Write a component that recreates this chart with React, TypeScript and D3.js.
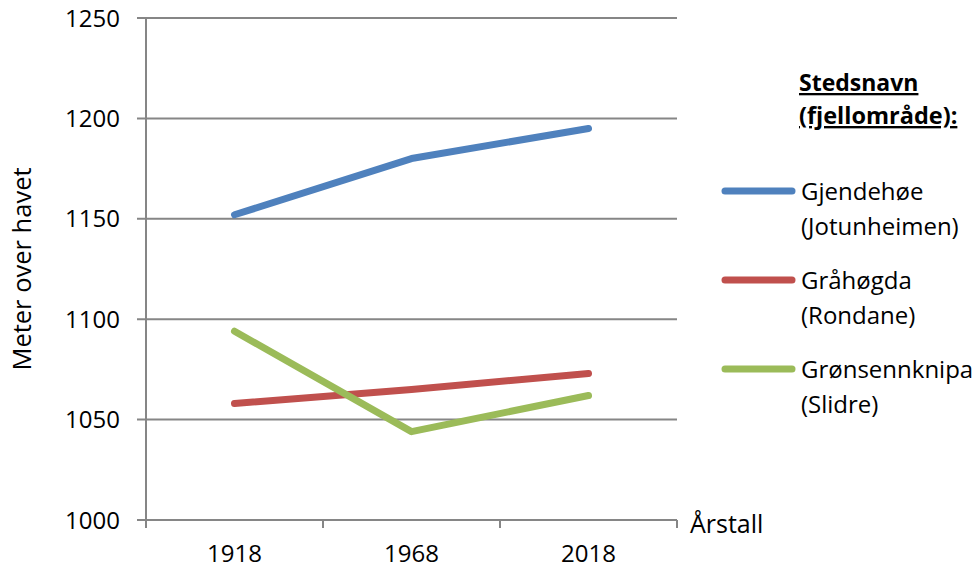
import React from "react";
import * as d3 from "d3";

const years = ["1918", "1968", "2018"];
const gjendehoe = [1152, 1180, 1195];
const graahogda = [1058, 1065, 1073];
const gronsennknipa = [1094, 1044, 1062];
const yTicks = [1000, 1050, 1100, 1150, 1200, 1250];

const seriesNames = [
  ["Gjendehøe", "(Jotunheimen)"],
  ["Gråhøgda", "(Rondane)"],
  ["Grønsennknipa", "(Slidre)"],
];
const seriesColors = ["#4F81BD", "#C0504D", "#9BBB59"];
const seriesValues = [gjendehoe, graahogda, gronsennknipa];

const W = 977;
const H = 572;
const FONT = "'Open Sans', 'Noto Sans', sans-serif";

export default function App() {
  const left = 146, right = 677, top = 18, bottom = 520;
  const x = d3.scaleBand<string>().domain(years).range([left, right]).paddingInner(0).paddingOuter(0);
  const y = d3.scaleLinear().domain([1000, 1250]).range([bottom, top]);
  const line = d3
    .line<number>()
    .x((_, i) => (x(years[i]) as number) + x.bandwidth() / 2)
    .y((d) => y(d));

  const gridColor = "#868686";
  const xTickPositions = [...years.map((yr) => x(yr) as number), right];

  const legendLineY = [191, 280, 369];

  return (
    <svg
      width={W}
      height={H}
      style={{ position: "absolute", left: 0, top: 0, background: "#fff" }}
      fontFamily={FONT}
    >
      {/* gridlines + y ticks */}
      {yTicks.map((t) => (
        <g key={t}>
          <line x1={left - 9} x2={right} y1={y(t)} y2={y(t)} stroke={gridColor} strokeWidth={2} />
          <text x={120} y={y(t)} dy="0.36em" textAnchor="end" fontSize={24} fill="#000">
            {t}
          </text>
        </g>
      ))}
      {/* y axis */}
      <line x1={left} x2={left} y1={top} y2={bottom + 8} stroke={gridColor} strokeWidth={2} />
      {/* x ticks */}
      {xTickPositions.map((px, i) => (
        <line key={i} x1={px} x2={px} y1={bottom} y2={bottom + 8} stroke={gridColor} strokeWidth={2} />
      ))}
      {years.map((yr) => (
        <text
          key={yr}
          x={(x(yr) as number) + x.bandwidth() / 2}
          y={562}
          textAnchor="middle"
          fontSize={24}
          fill="#000"
        >
          {yr}
        </text>
      ))}
      <text x={690} y={533} fontSize={25} fill="#000">
        Årstall
      </text>
      <text
        transform={`translate(31, ${(top + bottom) / 2}) rotate(-90)`}
        textAnchor="middle"
        fontSize={25.5}
        fill="#000"
      >
        Meter over havet
      </text>

      {/* series */}
      {seriesValues.map((vals, i) => (
        <path
          key={i}
          d={line(vals) || ""}
          fill="none"
          stroke={seriesColors[i]}
          strokeWidth={7}
          strokeLinecap="round"
          strokeLinejoin="round"
        />
      ))}

      {/* legend */}
      <text x={799} y={91} fontSize={23} fontWeight="bold" fill="#000" textDecoration="underline">
        Stedsnavn
      </text>
      <text x={799} y={124} fontSize={23.5} fontWeight="bold" fill="#000" textDecoration="underline">
        (fjellområde):
      </text>
      {seriesNames.map((nm, i) => (
        <g key={i}>
          <line
            x1={725}
            x2={792}
            y1={legendLineY[i]}
            y2={legendLineY[i]}
            stroke={seriesColors[i]}
            strokeWidth={7}
            strokeLinecap="round"
          />
          <text x={801} y={legendLineY[i]} dy="0.36em" fontSize={24} fill="#000">
            {nm[0]}
          </text>
          <text x={801} y={legendLineY[i] + 35} dy="0.36em" fontSize={24} fill="#000">
            {nm[1]}
          </text>
        </g>
      ))}
    </svg>
  );
}
